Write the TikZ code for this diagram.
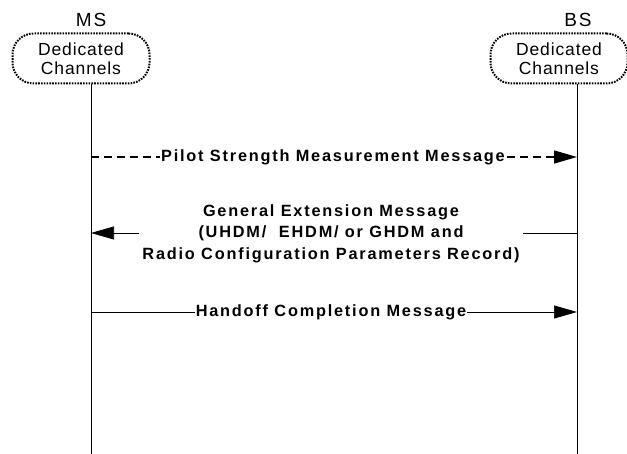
\documentclass[tikz,border=0pt]{standalone}
\usepackage{fontspec}
\setmainfont{Liberation Sans}
\newfontfamily\labelfont[LetterSpace=11]{Liberation Sans}
\newfontfamily\boxfont[LetterSpace=5]{Liberation Sans}
\newfontfamily\entityfont[LetterSpace=10]{Liberation Sans}
\usetikzlibrary{arrows.meta}
\begin{document}
\begin{tikzpicture}[x=1pt,y=-1pt,
  entity/.style={font=\entityfont\fontsize{19}{20}\selectfont},
  chanbox/.style={draw,line width=2pt,dash pattern=on 1.6pt off 1.2pt,rounded corners=21pt,minimum width=137pt,minimum height=50pt,align=center,inner sep=0pt,font=\boxfont\fontsize{17.5}{19}\selectfont},
  lifeline/.style={line width=0.7pt},
  msg/.style={line width=0.7pt,-{Triangle[length=23pt,width=13pt]}},
  msglabel/.style={fill=white,inner sep=1pt,font=\labelfont\bfseries\fontsize{16.3}{21.5}\selectfont,align=center}]
\useasboundingbox (0,0) rectangle (627,454);
\node[entity] (ms) at (91,20) {MS};
\node[entity] (bs) at (578,20) {BS};
\node[chanbox] (msch) at (81,58.5) {Dedicated\\Channels};
\node[chanbox] (bsch) at (559,58.5) {Dedicated\\Channels};
\coordinate (msTop) at (91,84);
\coordinate (msBot) at (91,454);
\coordinate (bsTop) at (577,84);
\coordinate (bsBot) at (577,454);
\draw[lifeline] (msTop) -- (msBot);
\draw[lifeline] (bsTop) -- (bsBot);
% Pilot Strength Measurement Message
\coordinate (p1) at (91,157);
\coordinate (p2) at (577,157);
\draw[msg,line width=1.3pt,dash pattern=on 8pt off 5pt] (p1) -- (p2);
\node[msglabel] (pl) at (333,157) {Pilot Strength Measurement Message};
% General Extension Message
\coordinate (g1) at (577,233);
\coordinate (g2) at (91,233);
\draw[msg] (g1) -- (g2);
\node[msglabel,inner xsep=3pt] (gl) at (331,233.5) {General Extension Message\\(UHDM/\ \ EHDM/ or GHDM and\\Radio Configuration Parameters Record)};
% Handoff Completion Message
\coordinate (h1) at (91,312);
\coordinate (h2) at (577,312);
\draw[msg] (h1) -- (h2);
\node[msglabel] (hl) at (331,312) {Handoff Completion Message};
\end{tikzpicture}
\end{document}
